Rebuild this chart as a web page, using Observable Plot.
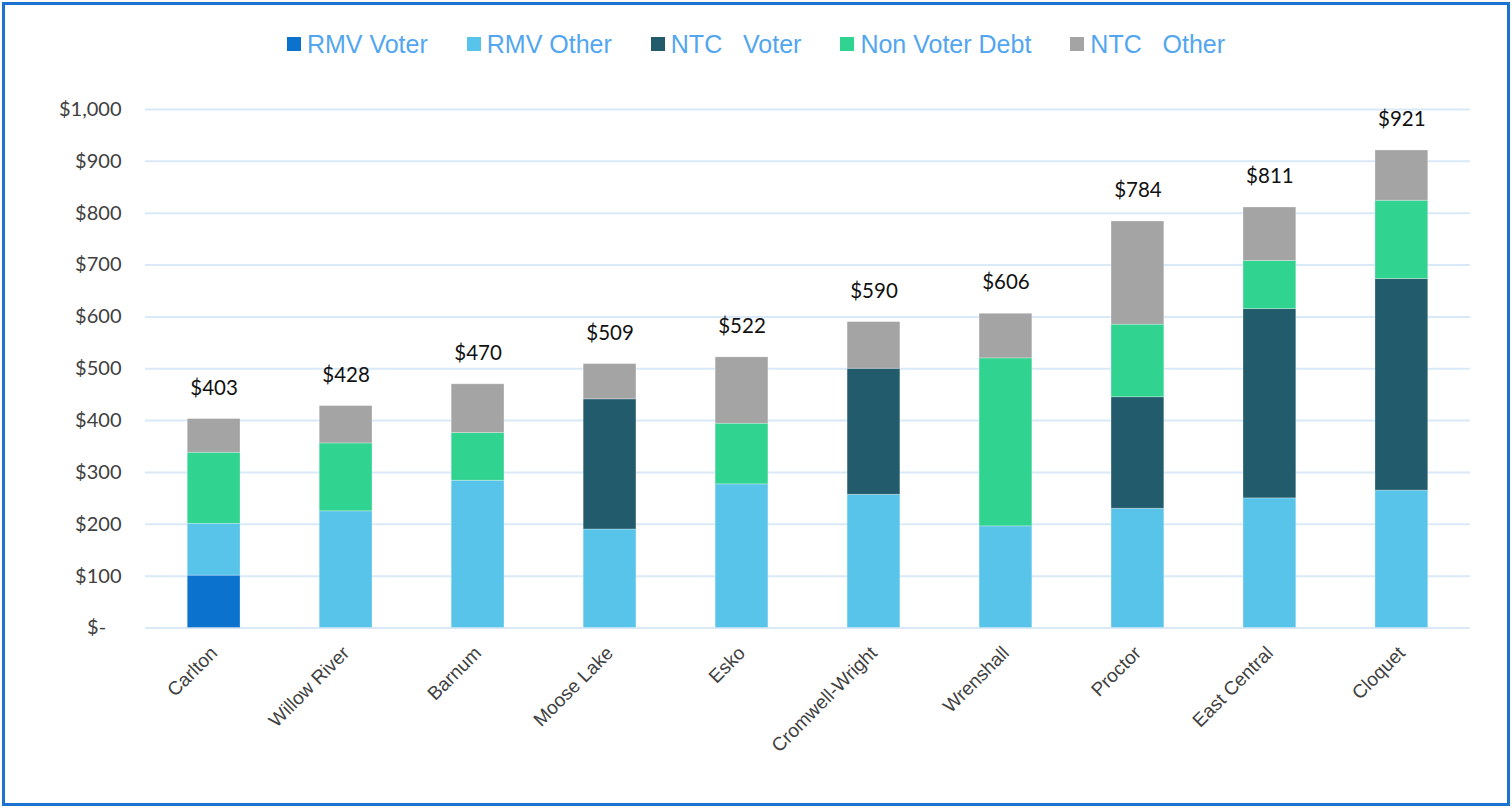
<!DOCTYPE html>
<html>
<head>
<meta charset="utf-8">
<script src="https://cdn.jsdelivr.net/npm/d3@7"></script>
<script src="https://cdn.jsdelivr.net/npm/@observablehq/plot@0.6"></script>
<style>
  html, body { margin: 0; padding: 0; background: #fff; }
  #frame { position: absolute; left: 2px; top: 2px; width: 1508px; height: 804px; box-sizing: border-box; border: 3px solid #1b74cf; }
  #legend { position: absolute; left: 0; top: 30px; width: 1512px; display: flex; justify-content: center; gap: 39px; font-family: "Liberation Sans", Arial, sans-serif; font-size: 25px; line-height: 28px; color: #52a6f0; white-space: pre; }
  #legend .item { display: flex; align-items: center; }
  #legend .sw { width: 14px; height: 14px; margin-right: 6px; }
  #chart { position: absolute; left: 0; top: 80px; }
</style>
</head>
<body>
<div id="frame"></div>
<div id="legend"></div>
<div id="chart"></div>
<script>
const districts = ["Carlton","Willow River","Barnum","Moose Lake","Esko","Cromwell-Wright","Wrenshall","Proctor","East Central","Cloquet"];
const seriesNames = ["RMV Voter","RMV Other","NTC   Voter","Non Voter Debt","NTC   Other"];
const seriesColors = ["#0b73ce","#58c4e9","#225b6b","#31d390","#a3a4a3"];
const rmvVoter     = [101,   0,   0,   0,   0,   0,   0,   0,   0,   0];
const rmvOther     = [100, 225, 284, 190, 277, 257, 196, 230, 250, 265];
const ntcVoter     = [  0,   0,   0, 251,   0, 243,   0, 215, 365, 408];
const nonVoterDebt = [137, 131,  92,   0, 117,   0, 324, 140,  93, 151];
const ntcOther     = [ 65,  72,  94,  68, 128,  90,  86, 199, 103,  97];
const totals       = [403, 428, 470, 509, 522, 590, 606, 784, 811, 921];
const yTicks = [0,100,200,300,400,500,600,700,800,900,1000];

const seriesValues = [rmvVoter, rmvOther, ntcVoter, nonVoterDebt, ntcOther];
const rows = [];
seriesNames.forEach((s, si) => districts.forEach((d, di) => rows.push({district: d, series: s, value: seriesValues[si][di]})));
const totalRows = districts.map((d, i) => ({district: d, total: totals[i]}));

// legend
const legend = document.getElementById("legend");
seriesNames.forEach((s, i) => {
  const it = document.createElement("div"); it.className = "item";
  const sw = document.createElement("div"); sw.className = "sw"; sw.style.background = seriesColors[i];
  const tx = document.createElement("span"); tx.textContent = s;
  it.appendChild(sw); it.appendChild(tx); legend.appendChild(it);
});

const fmtY = d => d === 0 ? "$-\u00a0\u00a0\u00a0" : "$" + d3.format(",")(d);

const chart = Plot.plot({
  width: 1512,
  height: 700,
  marginTop: 29,
  marginBottom: 152.5,
  marginLeft: 145,
  marginRight: 42,
  style: {background: "transparent", overflow: "visible"},
  x: {domain: districts, paddingInner: 0.6, paddingOuter: 0.32, round: false, label: null},
  y: {domain: [0, 1000], label: null},
  color: {domain: seriesNames, range: seriesColors},
  marks: [
    Plot.ruleY(yTicks, {stroke: "#d9e9f8", strokeWidth: 2}),
    Plot.barY(rows, {x: "district", y: "value", fill: "series", order: seriesNames, stroke: "#ffffff", strokeOpacity: 0.35, strokeWidth: 0.8}),
    Plot.text(totalRows, {x: "district", y: "total", text: d => "$" + d.total, dy: -31, fontSize: 20.5, fontFamily: "Lato, 'Open Sans', sans-serif", fill: "#111"}),
    Plot.axisY({ticks: yTicks, tickFormat: fmtY, tickSize: 0, tickPadding: 24, fontSize: 20, fontFamily: "Lato, 'Open Sans', sans-serif", fill: "#404040"}),
    Plot.axisX({tickSize: 0, tickPadding: 22, tickRotate: -45, fontSize: 19, fontFamily: "'Liberation Sans', Arial, sans-serif", fill: "#404040"})
  ]
});
document.getElementById("chart").appendChild(chart);
</script>
</body>
</html>
